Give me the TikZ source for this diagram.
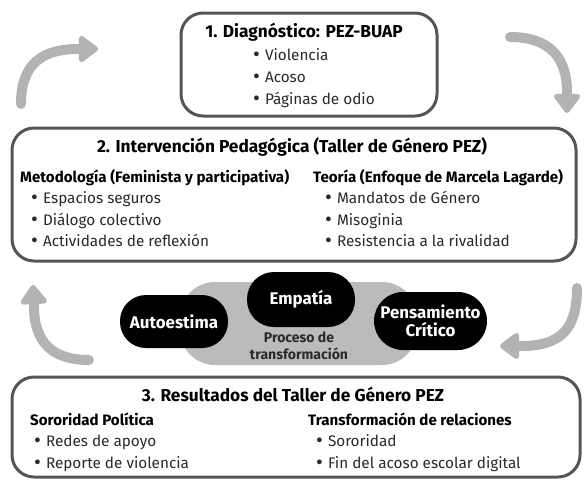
\documentclass[tikz,border=0pt]{standalone}
\usepackage{fontspec}
\setmainfont{Fira Sans}
\usetikzlibrary{arrows.meta}
\definecolor{boxgray}{HTML}{555555}
\definecolor{arrowgray}{HTML}{B3B3B3}
\definecolor{pillgray}{HTML}{BBBBBB}
\definecolor{txt}{HTML}{2A2A2A}
\newcommand{\bul}{\raisebox{-1.2pt}{\fontsize{21}{16}\selectfont •}\hspace{5pt}}
\begin{document}
\begin{tikzpicture}[x=1pt,y=-1pt,
  box/.style={draw=boxgray, line width=3pt, rounded corners=22pt, fill=white, inner sep=0pt},
  ttl/.style={font=\bfseries\fontsize{17.3}{20}\selectfont, inner sep=0pt, anchor=base, text=black},
  hd/.style={font=\bfseries\fontsize{15.1}{18}\selectfont, inner sep=0pt, anchor=base west, text=black},
  itm/.style={font=\fontsize{15.3}{17}\selectfont, inner sep=0pt, anchor=base west, text=txt},
  pill/.style={fill=black, text=white, font=\bfseries\fontsize{16.9}{18.5}\selectfont, align=center, inner sep=0pt},
  flow/.style={draw=arrowgray, line width=10pt, line cap=round, -{Triangle[width=30pt,length=21pt,round]}}
]
\useasboundingbox (0,0) rectangle (585,479);
\fill[white] (0,0) rectangle (585,479);

% boxes
\node[box, minimum width=256pt, minimum height=103pt] (b1) at (309,64.5) {};
\node[box, minimum width=564pt, minimum height=133pt] (b2) at (294,194.5) {};
\node[box, minimum width=568pt, minimum height=100pt] (b3) at (296,427) {};

% box 1
\node[ttl] (t1) at (304,37.5) {1. Diagnóstico: PEZ-BUAP};
\node[itm] (i11) at (253,60) {\bul Violencia};
\node[itm] (i12) at (253,82) {\bul Acoso};
\node[itm] (i13) at (253,104) {\bul Páginas de odio};

% box 2
\node[ttl] (t2) at (292,152.5) {2. Intervención Pedagógica (Taller de Género PEZ)};
\node[hd] (h21) at (20,182) {Metodología (Feminista y participativa)};
\node[hd] (h22) at (313,182) {Teoría (Enfoque de Marcela Lagarde)};
\node[itm] (i21) at (31,203) {\bul Espacios seguros};
\node[itm] (i22) at (31,225) {\bul Diálogo colectivo};
\node[itm] (i23) at (31,246) {\bul Actividades de reflexión};
\node[itm] (i24) at (325,203) {\bul Mandatos de Género};
\node[itm] (i25) at (325,225) {\bul Misoginia};
\node[itm] (i26) at (325,246) {\bul Resistencia a la rivalidad};

% middle
\node[fill=pillgray, rounded corners=35pt, minimum width=237pt, minimum height=83pt, inner sep=0pt] (proc) at (298.5,323.5) {};
\node[pill, rounded corners=26pt, minimum width=108pt, minimum height=53pt] (p1) at (174,321.5) {Autoestima};
\node[pill, rounded corners=27pt, minimum width=108pt, minimum height=55pt] (p2) at (301,299.5) {Empatía};
\node[pill, rounded corners=29pt, minimum width=113pt, minimum height=58pt] (p3) at (430.5,321) {Pensamiento\\[-1pt]Crítico};
\node[font=\bfseries\fontsize{14}{16.5}\selectfont, text=txt, align=center, inner sep=0pt] (plbl) at (299,346) {Proceso de\\transformación};

% box 3
\node[ttl] (t3) at (293,401) {3. Resultados del Taller de Género PEZ};
\node[hd] (h31) at (30,425) {Sororidad Política};
\node[hd] (h32) at (308,425) {Transformación de relaciones};
\node[itm] (i31) at (34,446) {\bul Redes de apoyo};
\node[itm] (i32) at (34,468) {\bul Reporte de violencia};
\node[itm] (i33) at (316,446) {\bul Sororidad};
\node[itm] (i34) at (316,468) {\bul Fin del acoso escolar digital};

% cycle arrows
\coordinate (a1s) at (21,104); \coordinate (a1e) at (98,49);
\coordinate (a2s) at (510,37); \coordinate (a2e) at (567,113);
\coordinate (a3s) at (577,288); \coordinate (a3e) at (500,346);
\coordinate (a4s) at (89,360); \coordinate (a4e) at (33,285);
\draw[flow] (a1s) .. controls (21,64) and (42,49) .. (78,49) -- (a1e);
\draw[flow] (a2s) .. controls (548,37) and (567,56) .. (567,92) -- (a2e);
\draw[flow] (a3s) .. controls (577,330) and (560,346) .. (521,346) -- (a3e);
\draw[flow] (a4s) .. controls (52,360) and (34,342) .. (34,306) -- (a4e);
\end{tikzpicture}
\end{document}
